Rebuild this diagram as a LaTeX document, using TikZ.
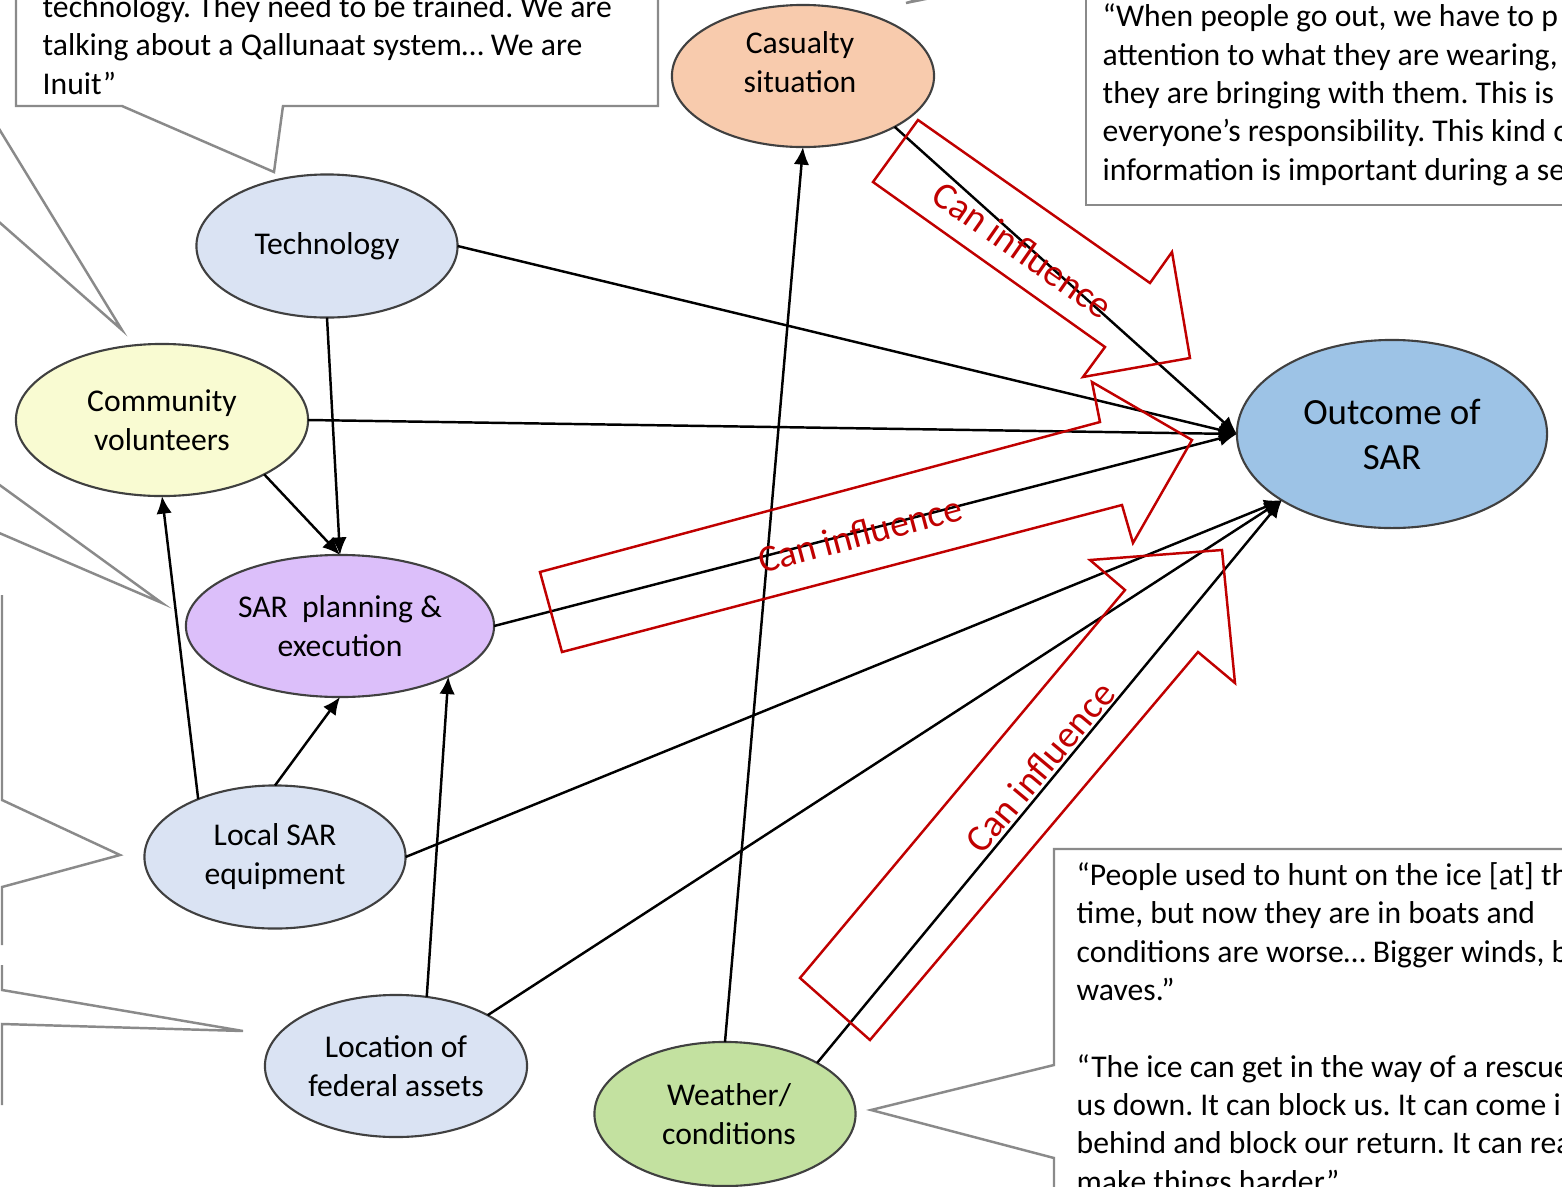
\documentclass[tikz,border=0pt]{standalone}
\usepackage{fontspec}
\setmainfont{Carlito}
\frenchspacing
\usetikzlibrary{shapes.geometric,arrows.meta}
\definecolor{callgray}{HTML}{8A8A8A}
\definecolor{infred}{HTML}{C00000}
\definecolor{rimgray}{HTML}{404040}
\definecolor{fillcas}{HTML}{F8CBAD}
\definecolor{fillblue}{HTML}{DAE3F3}
\definecolor{fillvol}{HTML}{F9FBD2}
\definecolor{fillplan}{HTML}{DCBFFA}
\definecolor{fillwea}{HTML}{C3E1A0}
\definecolor{fillout}{HTML}{9DC3E6}
\tikzset{
  factor/.style={ellipse, draw=rimgray, line width=0.6pt, inner sep=0pt, outer sep=0pt,
    align=center, font=\fontsize{9}{11.1}\selectfont},
  link/.style={line width=0.7pt, -{Latex[length=5pt,width=4.4pt]}},
  callout/.style={draw=callgray, line width=0.7pt},
  quote/.style={anchor=base west, inner sep=0pt, align=left, font=\fontsize{9}{10.9}\selectfont},
  blockarrow/.style={draw=infred, line width=0.7pt},
  inflabel/.style={text=infred, inner sep=0pt, font=\fontsize{10.8}{13}\selectfont}
}
\begin{document}
\begin{tikzpicture}[x=0.01cm, y=-0.01cm]
\useasboundingbox[fill=white] (0,0) rectangle (1562,1187);

% quote boxes
\draw[callout] (16,-20) -- (16,106) -- (122,106) -- (274,172) -- (283,106) -- (658,106) -- (658,-20);
\draw[callout] (1086,-20) -- (1086,205) -- (1600,205);
\draw[callout] (960,-8) -- (906,3) -- (945,-8);
\draw[callout] (1600,849) -- (1054,849) -- (1054,1065) -- (871,1110) -- (1054,1158) -- (1054,1200);
\draw[callout] (-10,114) -- (122,330) -- (-10,214);
\draw[callout] (-10,478) -- (162,603) -- (-10,529);
\draw[callout] (2,595) -- (2,800) -- (120,855) -- (2,887) -- (2,945);
\draw[callout] (2,965) -- (2,990) -- (243,1031) -- (2,1024) -- (2,1105);

% quotes, placed by the baseline of their last line
\node[quote] (q1) at (42,94) {technology. They need to be trained. We are\\talking about a Qallunaat system… We are\\Inuit”};
\node[quote] (q2) at (1102,180) {“When people go out, we have to p\\attention to what they are wearing,\\they are bringing with them. This is\\everyone’s responsibility. This kind o\\information is important during a se};
\node[quote] (q3) at (1076,1192) {“People used to hunt on the ice [at] th\\time, but now they are in boats and\\conditions are worse… Bigger winds, b\\waves.”\\[10.9pt]“The ice can get in the way of a rescue\\us down. It can block us. It can come i\\behind and block our return. It can rea\\make things harder”};

% factors
\node[factor, fill=fillcas, minimum width=2.62cm, minimum height=1.42cm,
  label={[align=center, font=\fontsize{9}{11.1}\selectfont, xshift=-0.03cm, yshift=0.14cm]center:Casualty\\situation}] (cas) at (803,76) {};
\node[factor, fill=fillblue, minimum width=2.61cm, minimum height=1.43cm] (tech) at (327,246) {Technology};
\node[factor, fill=fillvol, minimum width=2.92cm, minimum height=1.52cm] (comm) at (162,420) {Community\\volunteers};
\node[factor, fill=fillplan, minimum width=3.08cm, minimum height=1.42cm] (plan) at (340,626) {SAR\ \ planning \&\\execution};
\node[factor, fill=fillblue, minimum width=2.61cm, minimum height=1.43cm] (locsar) at (275,857) {Local SAR\\equipment};
\node[factor, fill=fillblue, minimum width=2.62cm, minimum height=1.42cm] (fed) at (396,1066) {Location of\\federal assets};
\node[factor, fill=fillwea, minimum width=2.61cm, minimum height=1.44cm] (wea) at (725,1114) {\hspace*{0.08cm}Weather/\\\hspace*{0.08cm}conditions};
\node[factor, fill=fillout, minimum width=3.10cm, minimum height=1.88cm,
  font=\fontsize{10.5}{12.8}\selectfont] (out) at (1392,434) {Outcome of\\SAR};

% links
\draw[link] (wea.north) -- (cas.south);
\draw[link] (tech.south) -- (plan.north);
\draw[link] (comm.-28.5) -- (plan.north);
\draw[link] (locsar.143) -- (comm.south);
\draw[link] (locsar.north) -- (plan.south);
\draw[link] (fed.66) -- (plan.-25);
\draw[link] (tech.east) -- (out.west);
\draw[link] (comm.east) -- (out.west);
\draw[link] (plan.east) -- (out.west);
\draw[link] (cas.-29) -- (out.west);
\draw[link] (locsar.east) -- (out.211);
\draw[link] (fed.29) -- (out.211);
\draw[link] (wea.29) -- (out.211);

% influence arrows
\draw[blockarrow] (918,120) -- (1150,283) -- (1172,252) -- (1190,358) -- (1083,377) -- (1105,347) -- (873,182) -- cycle;
\draw[blockarrow] (540,572) -- (1100,422) -- (1092,382) -- (1192,440) -- (1133,543) -- (1122,505) -- (562,652) -- cycle;
\draw[blockarrow] (800,978) -- (1125,590) -- (1090,560) -- (1222,550) -- (1235,683) -- (1198,652) -- (870,1040) -- cycle;
\node[inflabel, rotate=-35] (inf1) at (1023,250) {Can influence};
\node[inflabel, rotate=15] (inf2) at (860,534) {Can influence};
\node[inflabel, rotate=50] (inf3) at (1040,767) {Can influence};
\end{tikzpicture}
\end{document}
